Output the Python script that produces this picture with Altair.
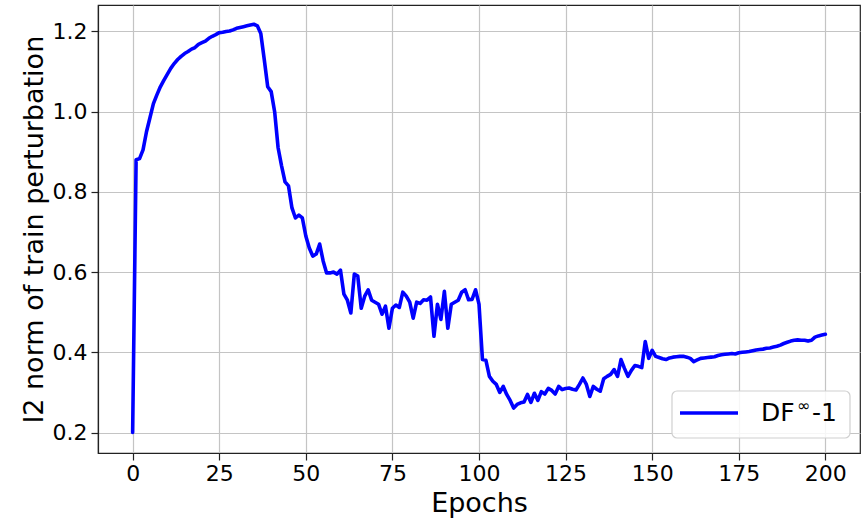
import altair as alt
import pandas as pd

# Per-epoch l2 norm of the training perturbation, epochs 0..200
epochs = list(range(201))
l2_norm = [
    0.200, 0.880, 0.883, 0.905, 0.950, 0.985, 1.020, 1.042, 1.062, 1.078,
    1.093, 1.108, 1.120, 1.130, 1.138, 1.145, 1.150, 1.156, 1.160, 1.168,
    1.172, 1.176, 1.183, 1.188, 1.192, 1.197, 1.198, 1.200, 1.201, 1.204,
    1.208, 1.210, 1.212, 1.214, 1.216, 1.218, 1.214, 1.195, 1.130, 1.062,
    1.050, 1.000, 0.910, 0.865, 0.825, 0.815, 0.760, 0.735, 0.742, 0.735,
    0.690, 0.660, 0.640, 0.645, 0.670, 0.628, 0.598, 0.598, 0.600, 0.595,
    0.605, 0.545, 0.530, 0.498, 0.595, 0.590, 0.510, 0.540, 0.556, 0.530,
    0.525, 0.520, 0.495, 0.515, 0.460, 0.510, 0.518, 0.512, 0.550, 0.540,
    0.525, 0.485, 0.525, 0.522, 0.531, 0.530, 0.538, 0.440, 0.520, 0.482,
    0.552, 0.460, 0.520, 0.525, 0.530, 0.550, 0.556, 0.531, 0.532, 0.556,
    0.520, 0.382, 0.380, 0.340, 0.328, 0.320, 0.300, 0.315, 0.295, 0.280,
    0.261, 0.270, 0.274, 0.276, 0.295, 0.275, 0.298, 0.280, 0.302, 0.296,
    0.310, 0.305, 0.296, 0.315, 0.307, 0.310, 0.311, 0.308, 0.306, 0.320,
    0.336, 0.320, 0.290, 0.315, 0.308, 0.303, 0.334, 0.340, 0.345, 0.357,
    0.340, 0.382, 0.360, 0.340, 0.355, 0.367, 0.365, 0.362, 0.427, 0.385,
    0.405, 0.390, 0.387, 0.384, 0.382, 0.386, 0.388, 0.389, 0.390, 0.390,
    0.388, 0.385, 0.377, 0.381, 0.385, 0.386, 0.387, 0.388, 0.389, 0.392,
    0.394, 0.395, 0.396, 0.397, 0.396, 0.399, 0.400, 0.401, 0.402, 0.404,
    0.406, 0.407, 0.408, 0.410, 0.411, 0.413, 0.415, 0.418, 0.422, 0.425,
    0.428, 0.430, 0.431, 0.430, 0.430, 0.428, 0.430, 0.438, 0.441, 0.443,
    0.445,
]
# Series label "DF^∞-1", split so the infinity sign can be set as a superscript
label_base = "DF"
label_sup = "∞"
label_tail = "-1"

x_ticks = [0, 25, 50, 75, 100, 125, 150, 175, 200]
y_ticks = [0.2, 0.4, 0.6, 0.8, 1.0, 1.2]

LINE_COLOR = "#0000ff"
FONT = "DejaVu Sans"

df = pd.DataFrame({"epoch": epochs, "l2": l2_norm})
one_row = pd.DataFrame({"base": [label_base], "sup": [label_sup], "tail": [label_tail]})

line = (
    alt.Chart(df)
    .mark_line(strokeWidth=3.6, strokeJoin="round", strokeCap="round", color=LINE_COLOR)
    .encode(
        x=alt.X(
            "epoch:Q",
            scale=alt.Scale(domain=[-10, 210], nice=False, zero=False),
            axis=alt.Axis(values=x_ticks, title="Epochs", format="d"),
        ),
        y=alt.Y(
            "l2:Q",
            scale=alt.Scale(domain=[0.149, 1.266], nice=False, zero=False),
            axis=alt.Axis(values=y_ticks, title="l2 norm of train perturbation", format=".1f"),
        ),
    )
)

# Legend box in the lower-right corner of the plot area
legend_box = alt.Chart(one_row).mark_rect(
    fill="white", fillOpacity=0.85, stroke="#d0d0d0", strokeWidth=1.2, cornerRadius=5
).encode(
    x=alt.value(574), x2=alt.value(752), y=alt.value(386), y2=alt.value(433)
)
legend_swatch = alt.Chart(one_row).mark_rule(
    color=LINE_COLOR, strokeWidth=3.6
).encode(
    x=alt.value(582), x2=alt.value(640), y=alt.value(408)
)
legend_base = alt.Chart(one_row).mark_text(
    font=FONT, fontSize=25, align="left", baseline="alphabetic", color="black"
).encode(x=alt.value(663), y=alt.value(416), text="base:N")
legend_sup = alt.Chart(one_row).mark_text(
    font=FONT, fontSize=16, align="left", baseline="alphabetic", color="black"
).encode(x=alt.value(699), y=alt.value(406), text="sup:N")
legend_tail = alt.Chart(one_row).mark_text(
    font=FONT, fontSize=25, align="left", baseline="alphabetic", color="black"
).encode(x=alt.value(714), y=alt.value(416), text="tail:N")

chart = (
    alt.layer(line, legend_box, legend_swatch, legend_base, legend_sup, legend_tail)
    .properties(
        width=762,
        height=448,
        autosize=alt.AutoSizeParams(type="none"),
        padding={"left": 98, "top": 5, "right": 1, "bottom": 74},
    )
    .configure_view(stroke="#222222", strokeWidth=1.2)
    .configure_axis(
        labelFont=FONT,
        titleFont=FONT,
        labelFontSize=22,
        titleFontSize=27,
        titleFontWeight="normal",
        labelColor="#000000",
        titleColor="#000000",
        domainColor="#222222",
        domainWidth=1.2,
        tickColor="#222222",
        tickSize=7,
        tickWidth=1.2,
        grid=True,
        gridColor="#c4c4c4",
        gridWidth=1.2,
    )
    .configure_axisX(labelPadding=3, titlePadding=6)
    .configure_axisY(labelPadding=4, titlePadding=4)
)

chart.save("out.html", embed_options={"renderer": "svg", "actions": False})
